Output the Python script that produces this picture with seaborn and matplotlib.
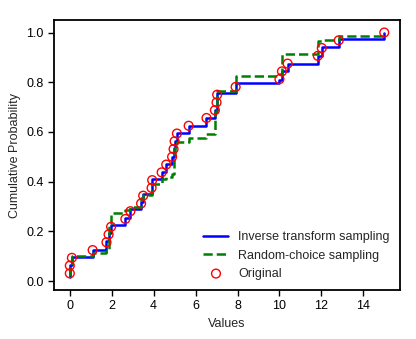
import matplotlib
matplotlib.use("Agg")
import matplotlib.pyplot as plt
import seaborn as sns
import numpy as np
import pandas as pd

# Original sorted data values (x) and their ECDF levels
orig_x = [0.0, 0.0, 0.1, 1.09, 1.75, 1.85, 1.97, 2.65, 2.89, 3.40, 3.50, 3.90,
          3.93, 4.38, 4.60, 4.88, 4.95, 5.00, 5.11, 5.67, 6.52, 6.92, 7.00, 7.03,
          7.91, 10.00, 10.12, 10.39, 11.83, 12.02, 12.83, 15.00]
orig_y = [(i + 1) / 32 for i in range(32)]

# ECDF level after each value for the inverse-transform sample
inv_levels = [0.015, 0.065, 0.097, 0.125, 0.16, 0.195, 0.225, 0.255, 0.29, 0.32,
              0.35, 0.385, 0.41, 0.44, 0.47, 0.50, 0.535, 0.565, 0.595, 0.625,
              0.655, 0.69, 0.72, 0.755, 0.795, 0.81, 0.845, 0.875, 0.905, 0.94,
              0.975, 1.0]

# ECDF level after each value for the random-choice sample
rc_levels = [0.02, 0.06, 0.10, 0.115, 0.12, 0.23, 0.275, 0.285, 0.30, 0.335,
             0.345, 0.385, 0.39, 0.41, 0.42, 0.43, 0.50, 0.555, 0.56, 0.575,
             0.59, 0.68, 0.72, 0.765, 0.825, 0.835, 0.915, 0.915, 0.965, 0.97,
             0.985, 1.0]

sns.set_style("ticks")
plt.rcParams['font.family'] = ['Liberation Sans', 'DejaVu Sans']

fig = plt.figure(figsize=(4.16, 3.39), dpi=100)
ax = fig.add_axes([0.13, 0.145, 0.8315, 0.795])

df_inv = pd.DataFrame({"x": orig_x, "y": inv_levels})
df_rc = pd.DataFrame({"x": orig_x, "y": rc_levels})
df_o = pd.DataFrame({"x": orig_x, "y": orig_y})

sns.lineplot(data=df_inv, x="x", y="y", estimator=None, sort=False,
             drawstyle="steps-post", color="#0000ff", linewidth=1.8,
             label="Inverse transform sampling", ax=ax)
sns.lineplot(data=df_rc, x="x", y="y", estimator=None, sort=False,
             drawstyle="steps-post", color="#008000", linewidth=1.8,
             linestyle="--", dashes=(3.5, 2), label="Random-choice sampling", ax=ax)
sns.scatterplot(data=df_o, x="x", y="y", facecolor="none", edgecolor="#ff0000",
                linewidth=1.0, s=40, label="Original", ax=ax, zorder=3)

ax.set_xlim(-0.75, 15.75)
ax.set_ylim(-0.035, 1.049)
ax.set_xticks([0, 2, 4, 6, 8, 10, 12, 14])
ax.set_yticks([0.0, 0.2, 0.4, 0.6, 0.8, 1.0])
ax.set_xlabel("Values", fontsize=9)
ax.set_ylabel("Cumulative Probability", fontsize=9)
ax.tick_params(labelsize=9, length=4, width=1, direction="out", colors="black")
for sp in ax.spines.values():
    sp.set_linewidth(1.3)
    sp.set_color("black")

ax.legend(loc="lower right", frameon=False, fontsize=9, handlelength=2.0,
          labelspacing=0.5, borderaxespad=0.4)

fig.savefig("out.png", dpi=100)
